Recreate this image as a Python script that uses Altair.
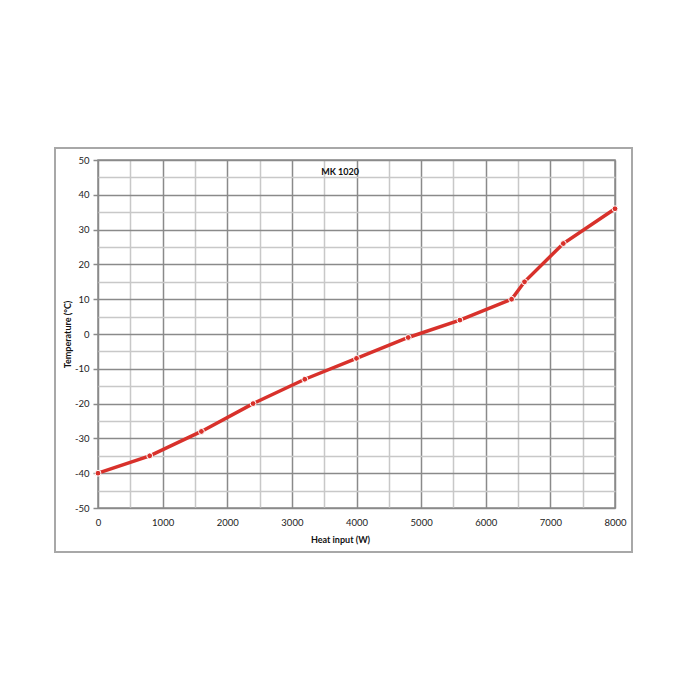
import altair as alt
import pandas as pd

# data
heat = [0, 800, 1600, 2400, 3200, 4000, 4800, 5600, 6400, 6600, 7200, 8000]
temp = [-40, -35, -28, -20, -13, -7, -1, 4, 10, 15, 26, 36]
x_ticks = list(range(0, 8001, 500))
y_ticks = list(range(-50, 51, 5))
chart_title = "MK 1020"

df = pd.DataFrame({"heat": heat, "temp": temp})

W, H = 517, 348
FONT = "Lato"
RED = "#d8312b"

xs = alt.Scale(domain=[0, 8000], nice=False, zero=False)
ys = alt.Scale(domain=[-50, 50], nice=False, zero=False)

xaxis = alt.Axis(
    values=x_ticks,
    title="Heat input (W)",
    labelExpr="datum.value % 1000 === 0 ? '' + datum.value : ''",
    gridColor={"condition": {"test": "datum.value % 1000 === 0", "value": "#8a8a8a"}, "value": "#c8c8c8"},
    gridWidth=1.5,
    ticks=False,
    domain=False,
    labelFlush=False,
    labelPadding=9,
    labelFont=FONT, labelFontSize=9.5, labelColor="#222",
    titleFont=FONT, titleFontSize=9, titleFontWeight="bold", titleColor="#111",
    titlePadding=9,
    titleX=242,
)
yaxis = alt.Axis(
    values=y_ticks,
    title="Temperature (°C)",
    labelExpr="datum.value % 10 === 0 ? '' + datum.value : ''",
    gridColor={"condition": {"test": "datum.value % 10 === 0", "value": "#8a8a8a"}, "value": "#c8c8c8"},
    gridWidth=1.5,
    tickColor={"condition": {"test": "datum.value % 10 === 0", "value": "#8a8a8a"}, "value": "transparent"},
    tickSize=5,
    tickWidth=1.5,
    domain=False,
    labelFlush=False,
    labelPadding=4,
    labelFont=FONT, labelFontSize=9.5, labelColor="#222",
    titleFont=FONT, titleFontSize=9, titleFontWeight="bold", titleColor="#111",
    titlePadding=2,
)

frame = alt.Chart(alt.Data(values=[{}])).mark_rect(
    fill="transparent", stroke="#a8a8a8", strokeWidth=2
).encode(
    x=alt.value(-43), x2=alt.value(534), y=alt.value(-12), y2=alt.value(392)
)

base = alt.Chart(df).encode(
    x=alt.X("heat:Q", scale=xs, axis=xaxis),
    y=alt.Y("temp:Q", scale=ys, axis=yaxis),
)

line = base.mark_line(color=RED, strokeWidth=3.5)
pts = base.mark_point(filled=True, fill=RED, stroke="white", strokeWidth=1, size=34, opacity=1)

title = alt.Chart(alt.Data(values=[{}])).mark_text(
    text=chart_title, font=FONT, fontSize=9, fontWeight="bold", color="#111"
).encode(x=alt.value(242), y=alt.value(12))

chart = alt.layer(frame, line, pts, title).properties(
    width=W, height=H,
    autosize=alt.AutoSizeParams(type="none"),
    padding={"left": 90, "top": 152, "right": 60, "bottom": 140},
    background="white",
).configure_view(stroke="#8a8a8a", strokeWidth=1.5)

chart.save("out.html", embed_options={"renderer": "svg", "actions": False})
